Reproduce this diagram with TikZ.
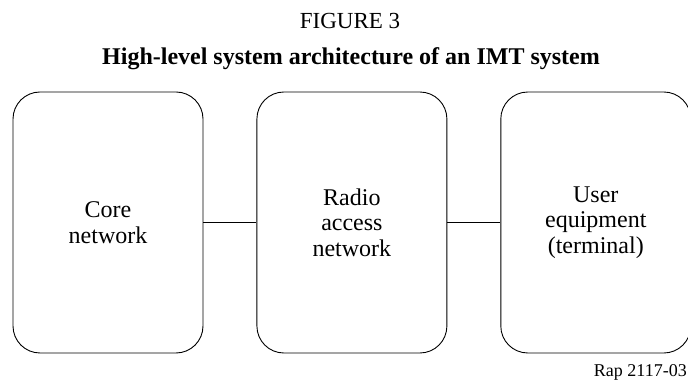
\documentclass[tikz,border=0pt]{standalone}
\usepackage{fontspec}
\setmainfont{Liberation Serif}
\usetikzlibrary{positioning}

\begin{document}
\begin{tikzpicture}[
			node distance=53pt,
			box/.style={draw, line width=0.9pt, rounded corners=27pt, minimum width=190pt, minimum height=261pt, align=center, font=\fontsize{24}{25.5}\selectfont},
			link/.style={line width=1.4pt}
		]
		\useasboundingbox (0,0) rectangle (688pt,380pt);

		\node[font=\fontsize{23}{25}\selectfont] (fig) at (350pt,359pt) {FIGURE 3};
		\node[font=\fontsize{24}{26}\selectfont\bfseries] (title) at (351pt,321pt) {High-level system architecture of an IMT system};

		\node[box] (core) at (108pt,157.5pt) {Core\\network};
		\node[box, right=of core] (ran) {Radio\\access\\network};
		\node[box, right=of ran] (ue) {User\\equipment\\(terminal)};

		\draw[link] (core) -- (ran);
		\draw[link] (ran) -- (ue);

		\node[font=\fontsize{18}{20}\selectfont, anchor=east, inner sep=1pt] (rap) at (688pt,8pt) {Rap 2117-03};

	\end{tikzpicture}
\end{document}
